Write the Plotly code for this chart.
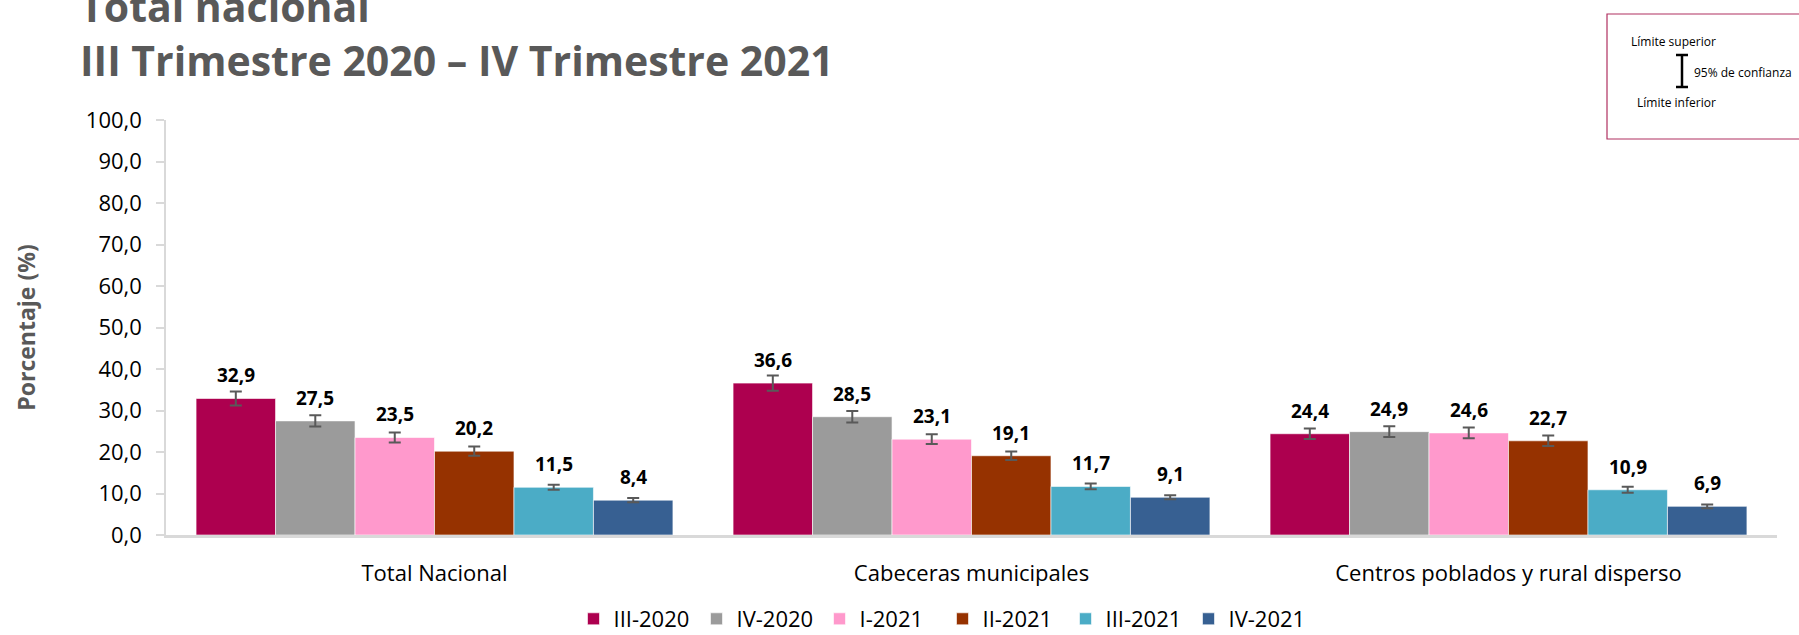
import plotly.graph_objects as go

# Regions and survey quarters
categorias = ["Total Nacional", "Cabeceras municipales", "Centros poblados y rural disperso"]
periodos = ["III-2020", "IV-2020", "I-2021", "II-2021", "III-2021", "IV-2021"]

# Percentage per quarter (one list per region order)
valores = {
    "III-2020": [32.9, 36.6, 24.4],
    "IV-2020": [27.5, 28.5, 24.9],
    "I-2021": [23.5, 23.1, 24.6],
    "II-2021": [20.2, 19.1, 22.7],
    "III-2021": [11.5, 11.7, 10.9],
    "IV-2021": [8.4, 9.1, 6.9],
}

# Half-width of the 95% confidence interval
margen_error = {
    "III-2020": [1.7, 1.85, 1.25],
    "IV-2020": [1.35, 1.4, 1.3],
    "I-2021": [1.2, 1.2, 1.3],
    "II-2021": [1.1, 1.0, 1.25],
    "III-2021": [0.6, 0.7, 0.7],
    "IV-2021": [0.5, 0.5, 0.45],
}

colores = ["#AD004F", "#9B9B9B", "#FF99CC", "#963200", "#4BACC6", "#376092"]

W, H = 1799, 635
L, R, T, B = 166, 22, 120, 100
PW, PH = W - L - R, H - T - B
BARGAP = 0.112


def px_x(x):
    return (x - L) / PW


def px_y(y):
    return (H - B - y) / PH


fig = go.Figure()
for periodo, color in zip(periodos, colores):
    fig.add_trace(go.Bar(
        name=periodo,
        x=categorias,
        y=valores[periodo],
        marker=dict(color=color, line=dict(color="rgba(255,255,255,0.6)", width=1)),
        error_y=dict(type="data", array=margen_error[periodo], color="#595959",
                     thickness=2, width=6),
        hoverinfo="skip",
    ))

# Value labels above each bar, offset within its group
cat_px = PW / len(categorias)
bar_px = cat_px * (1 - BARGAP) / len(periodos)
for j, periodo in enumerate(periodos):
    dx = (j - (len(periodos) - 1) / 2) * bar_px
    for cat, v in zip(categorias, valores[periodo]):
        fig.add_annotation(x=cat, y=v, xref="x", yref="y", xshift=dx, yshift=23,
                           yanchor="middle", showarrow=False,
                           text=f"<b>{v:.1f}</b>".replace(".", ","),
                           font=dict(family="Open Sans", size=19, color="#000000"))

fig.update_layout(
    width=W, height=H,
    margin=dict(l=L, r=R, t=T, b=B, autoexpand=False),
    paper_bgcolor="white", plot_bgcolor="white",
    barmode="group", bargap=BARGAP, bargroupgap=0,
    separators=",.",
    font=dict(family="Open Sans", color="#000000"),
    showlegend=True,
    legend=dict(orientation="h", x=0.482, xanchor="center", y=px_y(619), yanchor="middle",
                font=dict(family="Open Sans", size=22, color="#000000"),
                itemwidth=30, entrywidth=78, traceorder="normal"),
)

fig.update_yaxes(
    range=[0, 100], dtick=10, tickformat=".1f",
    showgrid=False, zeroline=False,
    showline=True, linecolor="#D9D9D9", linewidth=1.5,
    ticks="outside", ticklen=8, tickcolor="#D9D9D9", tickwidth=1.5,
    tickfont=dict(family="Open Sans", size=22, color="#000000"),
    ticklabelstandoff=10,
    title=dict(text="<b>Porcentaje (%)</b>", font=dict(family="Open Sans", size=23, color="#595959"),
               standoff=44),
)

fig.update_xaxes(
    showgrid=False, showline=True, linecolor="#D9D9D9", linewidth=2.5,
    ticks="", tickfont=dict(family="Open Sans", size=22, color="#000000"),
    ticklabelstandoff=17,
)

# Title lines
fig.add_annotation(xref="paper", yref="paper", x=px_x(78), y=px_y(6), xanchor="left", yanchor="middle",
                   text="<b>Total nacional</b>", showarrow=False,
                   font=dict(family="Open Sans", size=41, color="#595959"))
fig.add_annotation(xref="paper", yref="paper", x=px_x(78), y=px_y(60), xanchor="left", yanchor="middle",
                   text="<b>III Trimestre 2020 – IV Trimestre 2021</b>", showarrow=False,
                   font=dict(family="Open Sans", size=41, color="#595959"))

# Confidence-interval key box
fig.add_shape(type="rect", xref="paper", yref="paper",
              x0=px_x(1607), x1=px_x(1810), y0=px_y(139), y1=px_y(14),
              line=dict(color="#B03060", width=1.2), fillcolor="rgba(0,0,0,0)")
fig.add_shape(type="line", xref="paper", yref="paper",
              x0=px_x(1682), x1=px_x(1682), y0=px_y(55), y1=px_y(87),
              line=dict(color="#000000", width=2.5))
for yy in (55, 87):
    fig.add_shape(type="line", xref="paper", yref="paper",
                  x0=px_x(1676), x1=px_x(1688), y0=px_y(yy), y1=px_y(yy),
                  line=dict(color="#000000", width=2.5))
key_font = dict(family="Open Sans", size=12, color="#000000")
fig.add_annotation(xref="paper", yref="paper", x=px_x(1629), y=px_y(42), xanchor="left", yanchor="middle",
                   text="Límite superior", showarrow=False, font=key_font)
fig.add_annotation(xref="paper", yref="paper", x=px_x(1692), y=px_y(72), xanchor="left", yanchor="middle",
                   text="95% de confianza", showarrow=False, font=key_font)
fig.add_annotation(xref="paper", yref="paper", x=px_x(1635), y=px_y(102), xanchor="left", yanchor="middle",
                   text="Límite inferior", showarrow=False, font=key_font)

fig.write_html("out.html")
